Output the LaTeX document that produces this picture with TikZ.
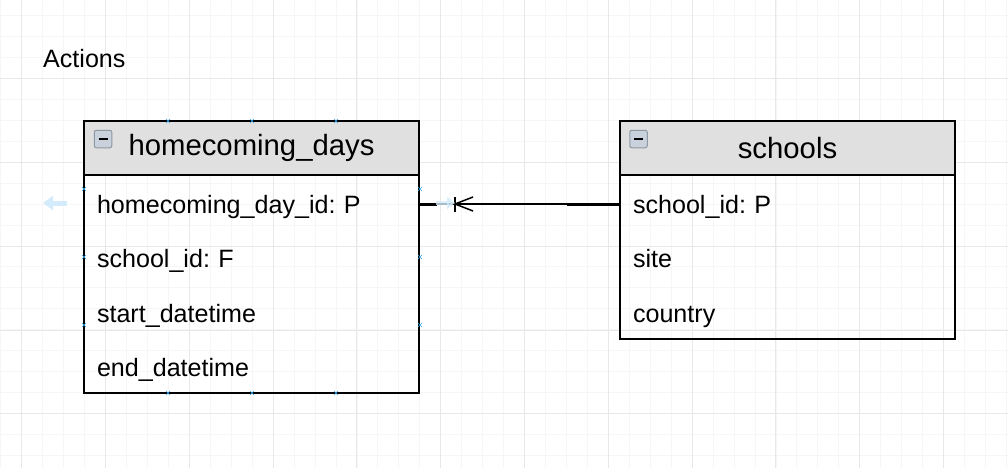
\documentclass[tikz,border=0pt]{standalone}
\usepackage{fontspec}
\setmainfont{Liberation Sans}
\usetikzlibrary{positioning, arrows.meta}
\frenchspacing

\definecolor{gridminor}{HTML}{F6F6F6}
\definecolor{gridmajor}{HTML}{E8E8E8}
\definecolor{headfill}{HTML}{E0E0E0}
\definecolor{hoverblue}{HTML}{D3EBFA}
\definecolor{markblue}{HTML}{2FA4E7}
\definecolor{iconfill}{HTML}{C9D2DC}
\definecolor{iconedge}{HTML}{8C98A4}

\tikzset{
  tablehead/.style={draw=black, line width=2pt, fill=headfill, minimum width=335pt,
    minimum height=54pt, inner sep=0pt, outer sep=0pt, font=\fontsize{29.3}{34}\selectfont},
  tablerow/.style={minimum width=335pt, text width=309pt, minimum height=54.5pt,
    inner xsep=13pt, inner ysep=0pt, outer sep=0pt, text height=27.4pt, text depth=5.3pt,
    align=left, font=\fontsize{25.1}{30}\selectfont},
  tableicon/.style={draw=iconedge, fill=iconfill, rounded corners=2pt, line width=1pt,
    minimum size=17.5pt, inner sep=0pt},
  xmark/.style={markblue, line width=0.6pt},
}

\begin{document}
\begin{tikzpicture}[x=1pt, y=-1pt]
\useasboundingbox (0,0) rectangle (1008,468);

% grid
\foreach \i in {0,...,48} \draw[gridminor, line width=0.8pt] (0.75+20.95*\i,0) -- (0.75+20.95*\i,468);
\foreach \i in {0,...,22} \draw[gridminor, line width=0.8pt] (0,15.45+20.95*\i-20.95) -- (1008,15.45+20.95*\i-20.95);
\foreach \i in {0,...,11} \draw[gridmajor, line width=0.9pt] (21.7+83.8*\i,0) -- (21.7+83.8*\i,468);
\foreach \i in {0,...,5} \draw[gridmajor, line width=0.9pt] (0,-5.6+83.9*\i) -- (1008,-5.6+83.9*\i);

\node[font=\fontsize{25.1}{30}\selectfont, anchor=west, inner sep=0pt] (title) at (43,59) {Actions};

% homecoming_days
\node[tablehead, anchor=north west] (hdhead) at (84,121) {homecoming\_days};
\node[tablerow, below=0pt of hdhead] (hdrow1) {homecoming\_day\_id: P};
\node[tablerow, below=0pt of hdrow1] (hdrow2) {school\_id: F};
\node[tablerow, below=0pt of hdrow2] (hdrow3) {start\_datetime};
\node[tablerow, below=0pt of hdrow3] (hdrow4) {end\_datetime};
\draw[line width=2pt] (hdhead.north west) rectangle (hdrow4.south east);
\node[tableicon] (hdicon) at (103,139) {};
\draw[line width=1.4pt] ([xshift=-4.5pt]hdicon.center) -- ([xshift=4.5pt]hdicon.center);

% schools
\node[tablehead, anchor=north west] (schead) at (620,121) {schools};
\node[tablerow, below=0pt of schead] (scrow1) {school\_id: P};
\node[tablerow, below=0pt of scrow1] (scrow2) {site};
\node[tablerow, below=0pt of scrow2] (scrow3) {country};
\draw[line width=2pt] (schead.north west) rectangle (scrow3.south east);
\node[tableicon] (scicon) at (638.5,139) {};
\draw[line width=1.4pt] ([xshift=-4.5pt]scicon.center) -- ([xshift=4.5pt]scicon.center);

% relation
\coordinate (crow) at (455,204);
\draw[line width=1.4pt] (hdrow1.east |- crow) -- (scrow1.west |- crow);
\draw[line width=3pt] (hdrow1.east |- crow) -- ++(18,0);
\draw[line width=3pt] (scrow1.west |- crow) -- ++(-53,0);
\draw[line width=1.5pt] (crow) -- ++(18,-7) (crow) -- ++(18,7);
\draw[line width=1.5pt] ([yshift=-7.5pt]crow) -- ([yshift=7.5pt]crow);
\draw[hoverblue, opacity=0.8, line width=4pt, -{Triangle[width=12pt, length=8pt]}] (436,203) -- (455,203);

% hover arrow
\coordinate (hoverend) at (43,203);
\draw[hoverblue, line width=5pt, -{Triangle[width=14pt, length=10pt]}] (67,203) -- (hoverend);

% connection marks
\foreach \x in {168,252,336} {
  \draw[xmark] (\x-2,119) -- (\x+2,123) (\x-2,123) -- (\x+2,119);
  \draw[xmark] (\x-2,391) -- (\x+2,395) (\x-2,395) -- (\x+2,391);
}
\foreach \y in {189,257,325} {
  \draw[xmark] (82,\y-2) -- (86,\y+2) (82,\y+2) -- (86,\y-2);
  \draw[xmark] (418,\y-2) -- (422,\y+2) (418,\y+2) -- (422,\y-2);
}
\end{tikzpicture}
\end{document}
